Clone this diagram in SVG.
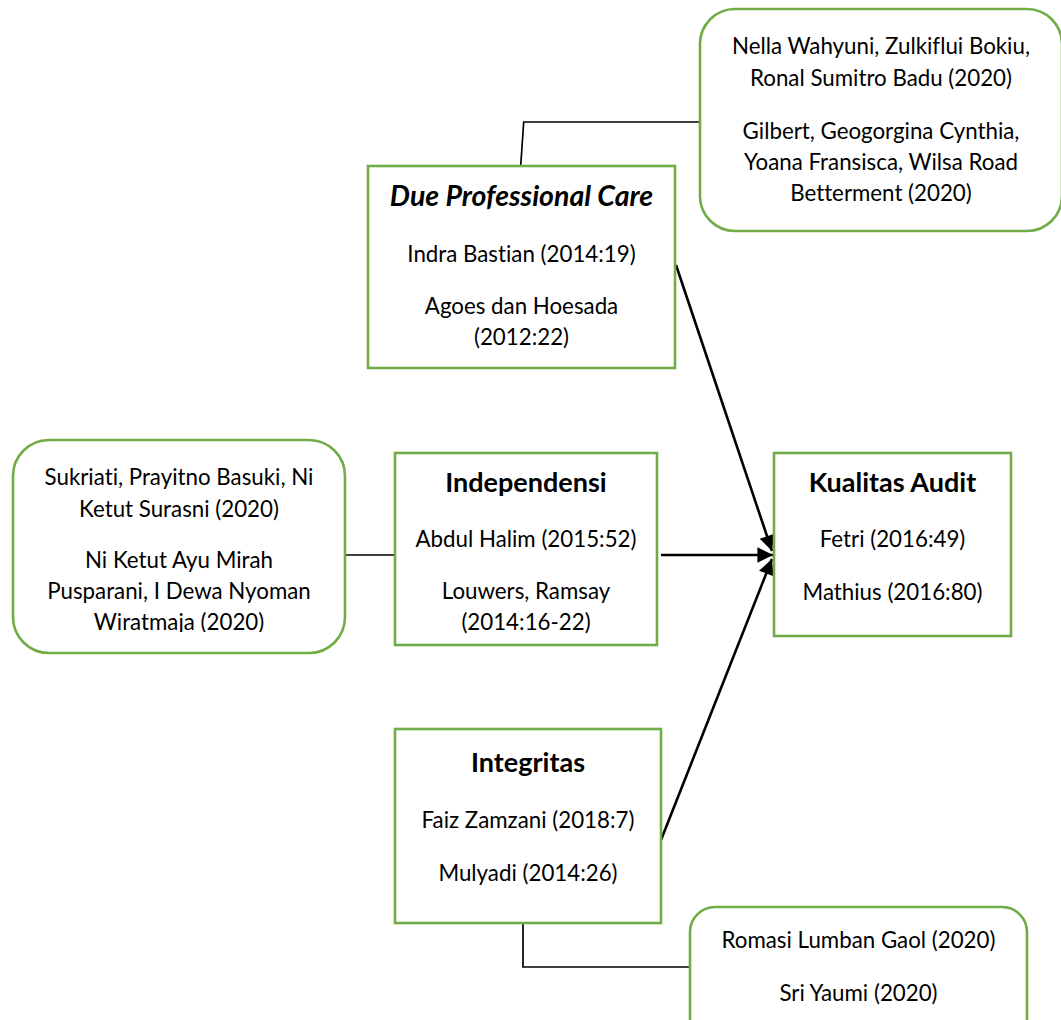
<svg xmlns="http://www.w3.org/2000/svg" width="1061" height="1020" viewBox="0 0 1061 1020">
<style>
.box{fill:#fff;stroke:#70AD47;stroke-width:2.6}
.t{font-family:Lato,"Open Sans","Liberation Sans",sans-serif;font-size:22.3px;fill:#000;text-anchor:middle;font-variant-ligatures:none;font-feature-settings:"liga" 0,"dlig" 0}
.h{font-family:Lato,"Open Sans","Liberation Sans",sans-serif;font-size:27px;font-weight:bold;fill:#000;text-anchor:middle;font-variant-ligatures:none}
.hi{font-style:italic;font-size:28.5px}
.c{fill:none;stroke:#000;stroke-width:1.7}
.a{fill:none;stroke:#000;stroke-width:2.6}
</style>
<defs>
<marker id="arr" viewBox="0 0 10 10" refX="10" refY="5" markerWidth="7" markerHeight="6" markerUnits="strokeWidth" orient="auto">
<path d="M0,0 L10,5 L0,10 z" fill="#000"/>
</marker>
<clipPath id="clipL"><rect x="0" y="0" width="1061" height="632"/></clipPath>
</defs>
<rect width="1061" height="1020" fill="#fff"/>

<g id="connectors">
<polyline class="c" points="520.7,166 523.7,122 700,122"/>
<line class="c" x1="345" y1="555" x2="395" y2="555"/>
<polyline class="c" points="523,923 523,967 690,967"/>
<line class="a" x1="676" y1="265" x2="772" y2="551" marker-end="url(#arr)"/>
<line class="a" x1="661" y1="555" x2="773" y2="555" marker-end="url(#arr)"/>
<line class="a" x1="661" y1="840" x2="772" y2="559" marker-end="url(#arr)"/>
</g>

<g id="node-dpc">
<rect class="box" x="368" y="166" width="307" height="202"/>
<text class="h hi" x="521.5" y="206">Due Professional Care</text>
<text class="t" x="521.5" y="262">Indra Bastian (2014:19)</text>
<text class="t" x="521.5" y="314">Agoes dan Hoesada</text>
<text class="t" x="521.5" y="345">(2012:22)</text>
</g>

<g id="node-ref-dpc">
<rect class="box" x="700" y="9" width="362" height="222" rx="35" ry="35"/>
<text class="t" x="881" y="54">Nella Wahyuni, Zulkiflui Bokiu,</text>
<text class="t" x="881" y="86">Ronal Sumitro Badu (2020)</text>
<text class="t" x="881" y="139">Gilbert, Geogorgina Cynthia,</text>
<text class="t" x="881" y="170">Yoana Fransisca, Wilsa Road</text>
<text class="t" x="881" y="201">Betterment (2020)</text>
</g>

<g id="node-ref-ind">
<rect class="box" x="13" y="440" width="332" height="213" rx="36" ry="36"/>
<text class="t" x="179" y="485">Sukriati, Prayitno Basuki, Ni</text>
<text class="t" x="179" y="517">Ketut Surasni (2020)</text>
<text class="t" x="179" y="568">Ni Ketut Ayu Mirah</text>
<text class="t" x="179" y="599">Pusparani, I Dewa Nyoman</text>
<text class="t" x="179" y="630" clip-path="url(#clipL)">Wiratmaja (2020)</text>
</g>

<g id="node-independensi">
<rect class="box" x="395" y="453" width="262" height="192"/>
<text class="h" x="526" y="492">Independensi</text>
<text class="t" x="526" y="547">Abdul Halim (2015:52)</text>
<text class="t" x="526" y="599">Louwers, Ramsay</text>
<text class="t" x="526" y="630">(2014:16-22)</text>
</g>

<g id="node-kualitas">
<rect class="box" x="774" y="453" width="237" height="183"/>
<text class="h" x="892.5" y="492">Kualitas Audit</text>
<text class="t" x="892.5" y="547">Fetri (2016:49)</text>
<text class="t" x="892.5" y="600">Mathius (2016:80)</text>
</g>

<g id="node-integritas">
<rect class="box" x="395" y="729" width="266" height="194"/>
<text class="h" x="528" y="772">Integritas</text>
<text class="t" x="528" y="828">Faiz Zamzani (2018:7)</text>
<text class="t" x="528" y="881">Mulyadi (2014:26)</text>
</g>

<g id="node-ref-int">
<rect class="box" x="690" y="907" width="337" height="150" rx="25" ry="25"/>
<text class="t" x="858.5" y="948">Romasi Lumban Gaol (2020)</text>
<text class="t" x="858.5" y="1001">Sri Yaumi (2020)</text>
</g>
</svg>
